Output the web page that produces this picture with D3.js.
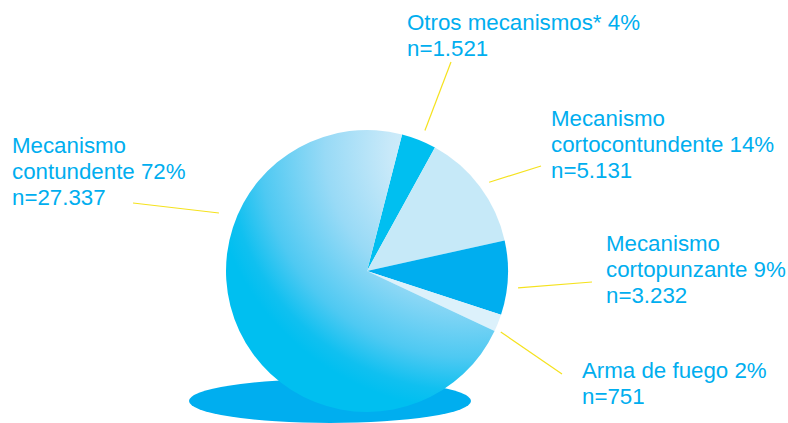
<!DOCTYPE html>
<html>
<head>
<meta charset="utf-8">
<script src="https://cdn.jsdelivr.net/npm/d3@7"></script>
<style>
  html, body { margin: 0; padding: 0; background: #ffffff; }
  svg { display: block; }
  .label { font-family: "Liberation Sans", Arial, sans-serif; font-size: 22.3px; fill: #00aeef; }
</style>
</head>
<body>
<svg id="chart" width="788" height="423"></svg>
<script>
// Data
const categories = ["Otros mecanismos*", "Mecanismo cortocontundente", "Mecanismo cortopunzante", "Arma de fuego", "Mecanismo contundente"];
const counts = [1521, 5131, 3232, 751, 27337];
const percents = [4, 14, 9, 2, 72];
const countLabels = ["n=1.521", "n=5.131", "n=3.232", "n=751", "n=27.337"];

// label text lines
const labelLines = [
  ["Otros mecanismos* 4%", "n=1.521"],
  ["Mecanismo", "cortocontundente 14%", "n=5.131"],
  ["Mecanismo", "cortopunzante 9%", "n=3.232"],
  ["Arma de fuego 2%", "n=751"],
  ["Mecanismo", "contundente 72%", "n=27.337"]
];

// Layout
const width = 788, height = 423;
const cx = 367, cy = 271, radius = 141;
const startDeg = 14.4;
const sliceColors = ["#00bff0", "#c6e9f8", "#00aeef", "#dcf1fb", "url(#contGrad)"];
const labelPos = [[407, 30], [551, 126], [606, 251], [582, 378], [12, 153]];
const lineHeight = 26;
// leader lines: angle (deg, clockwise from top) and radius of inner end, outer end point
const leaderIn = [[22.4, 152], [54, 151], [96.4, 152], [114.5, 147], [291.4, 159]];
const leaderOut = [[451, 62], [541, 166], [592, 282], [562, 374], [133, 203]];

const svg = d3.select('#chart');

// gradient for the big slice (coordinates relative to pie centre)
const defs = svg.append('defs');
const grad = defs.append('radialGradient')
  .attr('id', 'contGrad')
  .attr('gradientUnits', 'userSpaceOnUse')
  .attr('cx', 100).attr('cy', -120)
  .attr('fx', 100).attr('fy', -120)
  .attr('r', 258);
[[0, "#e8f6fd"], [0.3, "#c8e9f9"], [0.55, "#98daf6"], [0.8, "#4ec9f2"], [0.93, "#10c0f0"], [1, "#00bff0"]]
  .forEach(s => grad.append('stop').attr('offset', s[0]).attr('stop-color', s[1]));

// shadow ellipse
svg.append('ellipse')
  .attr('cx', cx - 37).attr('cy', 401)
  .attr('rx', 141).attr('ry', 22)
  .attr('fill', '#00aeef');

const pie = d3.pie()
  .sort(null)
  .value(d => d)
  .startAngle(startDeg * Math.PI / 180)
  .endAngle(startDeg * Math.PI / 180 + 2 * Math.PI);

const arc = d3.arc().innerRadius(0).outerRadius(radius);

const g = svg.append('g').attr('transform', `translate(${cx},${cy})`);

g.selectAll('path')
  .data(pie(counts))
  .enter()
  .append('path')
  .attr('d', arc)
  .attr('fill', (d, i) => sliceColors[i]);

// leader lines
leaderIn.forEach((p, i) => {
  const a = p[0] * Math.PI / 180;
  svg.append('line')
    .attr('x1', cx + p[1] * Math.sin(a))
    .attr('y1', cy - p[1] * Math.cos(a))
    .attr('x2', leaderOut[i][0])
    .attr('y2', leaderOut[i][1])
    .attr('stroke', '#f5e21e')
    .attr('stroke-width', 1.2);
});

// labels
labelLines.forEach((lines, i) => {
  const t = svg.append('text')
    .attr('class', 'label')
    .attr('x', labelPos[i][0])
    .attr('y', labelPos[i][1]);
  lines.forEach((line, j) => {
    t.append('tspan')
      .attr('x', labelPos[i][0])
      .attr('y', labelPos[i][1] + j * lineHeight)
      .text(line);
  });
});
</script>
</body>
</html>
